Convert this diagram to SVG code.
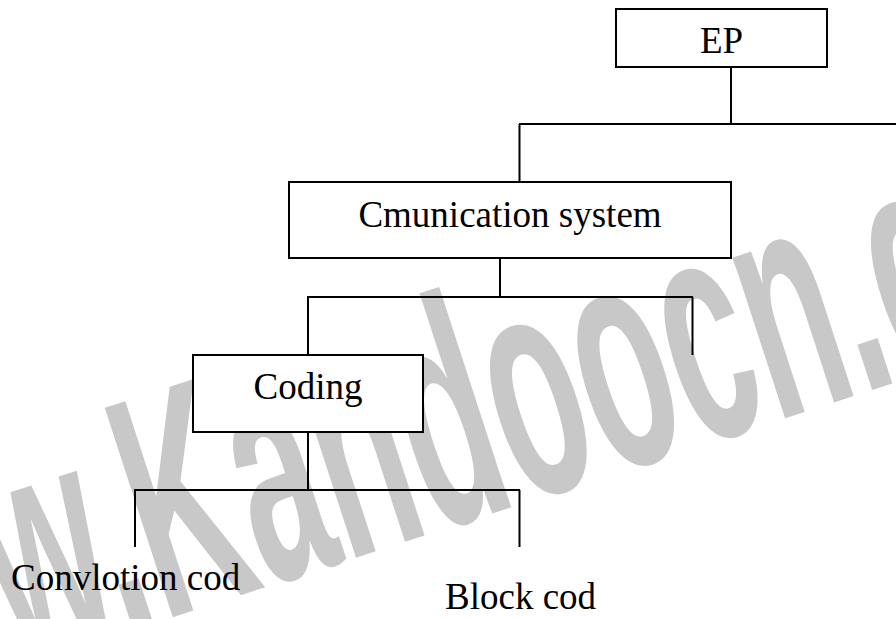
<svg xmlns="http://www.w3.org/2000/svg" width="896" height="619" viewBox="0 0 896 619">
<style>
.box{fill:#fff;stroke:#000;stroke-width:2}
.lbl{font-family:"Liberation Serif","Times New Roman",serif;font-size:37px;fill:#000}
.c{text-anchor:middle}
.conn line{stroke:#000;stroke-width:2}
.wm{font-family:"Liberation Sans",Arial,sans-serif;font-weight:bold;font-size:320px;fill:#c8c8c8}
</style>
<rect width="896" height="619" fill="#fff"/>
<g id="watermark">
<text class="wm" transform="translate(-205,740) rotate(-18) scale(0.47,1)">www.Kandoocn.com</text>
</g>
<g id="connectors" class="conn">
<line x1="731" y1="67" x2="731" y2="124"/>
<line x1="519" y1="124" x2="896" y2="124"/>
<line x1="519.5" y1="124" x2="519.5" y2="182"/>
<line x1="500" y1="258" x2="500" y2="297"/>
<line x1="307" y1="297" x2="693" y2="297"/>
<line x1="308" y1="297" x2="308" y2="355"/>
<line x1="692.5" y1="297" x2="692.5" y2="355"/>
<line x1="308" y1="432" x2="308" y2="490"/>
<line x1="134" y1="490" x2="520" y2="490"/>
<line x1="135" y1="490" x2="135" y2="547"/>
<line x1="519.5" y1="490" x2="519.5" y2="547"/>
</g>
<g id="ep">
<rect class="box" x="616" y="9" width="211" height="58"/>
<text class="lbl c" x="721.5" y="53">EP</text>
</g>
<g id="communication">
<rect class="box" x="289" y="182" width="442" height="76"/>
<text class="lbl c" x="510" y="227">Cmunication system</text>
</g>
<g id="coding">
<rect class="box" x="193" y="355" width="230" height="77"/>
<text class="lbl c" x="308" y="399">Coding</text>
</g>
<g id="convolution">
<text class="lbl" x="11" y="590">Convlotion cod</text>
</g>
<g id="block">
<text class="lbl" x="445" y="609">Block cod</text>
</g>
</svg>
